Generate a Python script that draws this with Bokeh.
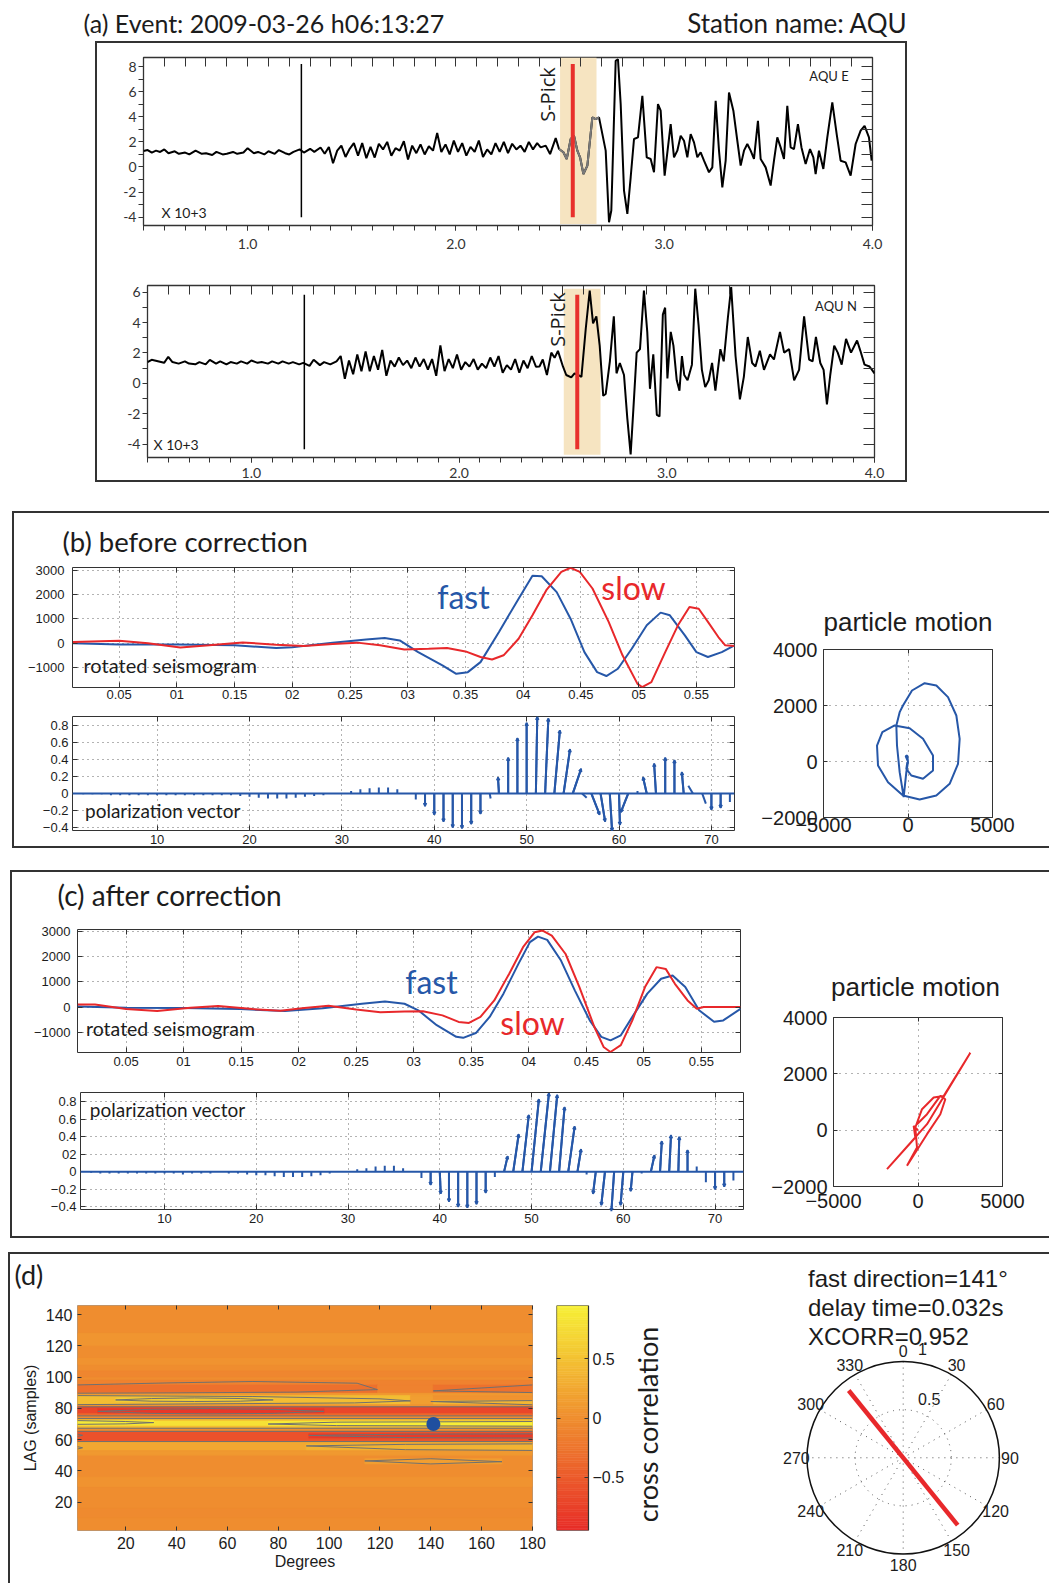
import numpy as np
from bokeh.plotting import figure
from bokeh.layouts import column, row, Spacer
from bokeh.models import (Range1d, LinearAxis, FixedTicker, Label, CustomJSTickFormatter,
                          PrintfTickFormatter, LinearColorMapper, ColumnDataSource, Span, Arrow, VeeHead)
from bokeh.transform import transform
from bokeh.embed import file_html
from bokeh.resources import INLINE

# ======================= DATA =======================
# (a) AQU E component (time s, amplitude x10^3)
e_pts = [(0.50,1.27),(0.52,1.35),(0.54,1.15),(0.56,1.30),(0.58,1.20),(0.60,1.40),(0.62,1.10),
         (0.65,1.25),(0.67,1.05),(0.70,1.15),(0.72,1.00),(0.75,1.30),(0.78,1.05),(0.80,1.10),
         (0.83,0.95),(0.85,1.20),(0.88,1.00),(0.90,1.05),(0.93,1.20),(0.95,1.05),(0.98,1.15),
         (1.00,1.50),(1.03,1.10),(1.05,1.20),(1.08,1.00),(1.10,1.25),(1.13,1.05),(1.15,1.35),
         (1.18,1.10),(1.20,1.00),(1.22,1.20),(1.25,1.40),(1.27,1.15),(1.30,1.45),(1.32,1.20),
         (1.35,1.55),(1.37,1.05),(1.39,1.60),(1.41,0.30),(1.43,1.30),(1.45,1.70),(1.47,0.80),
         (1.49,1.45),(1.51,1.90),(1.53,0.90),(1.55,1.90),(1.57,0.70),(1.59,1.60),(1.61,0.75),
         (1.63,1.85),(1.65,1.40),(1.67,2.00),(1.69,0.90),(1.71,1.50),(1.73,1.30),(1.75,2.05),
         (1.77,0.60),(1.79,1.70),(1.81,1.10),(1.83,1.80),(1.85,1.00),(1.87,1.65),(1.89,1.30),
         (1.91,2.70),(1.93,1.20),(1.95,1.80),(1.97,1.00),(1.99,2.10),(2.01,1.20),(2.03,1.90),
         (2.05,0.90),(2.07,1.60),(2.09,1.20),(2.11,2.10),(2.13,0.80),(2.15,1.40),(2.17,1.00),
         (2.19,1.90),(2.21,1.20),(2.23,2.00),(2.25,1.10),(2.27,1.85),(2.29,1.40),(2.31,1.70),
         (2.33,1.20),(2.35,2.00),(2.37,1.40),(2.39,1.90),
         (2.407,1.56),(2.431,1.70),(2.452,1.03),(2.479,2.30),(2.495,1.43),(2.516,1.17),
         (2.532,0.64),(2.551,2.23),(2.567,2.49),(2.583,1.30),(2.596,0.77),(2.612,-0.56),
         (2.631,0.11),(2.655,3.95),(2.671,3.81),(2.687,3.95),(2.719,1.30),(2.735,-4.40),
         (2.746,-3.47),(2.767,8.45),(2.778,8.58),(2.791,5.01),(2.807,-1.88),(2.823,-3.74),
         (2.839,-0.82),(2.855,2.23),(2.874,2.36),(2.895,5.67),(2.916,0.77),(2.935,0.64),
         (2.951,-0.42),(2.970,5.01),(2.983,4.48),(3.002,-0.69),(3.031,3.42),(3.047,0.77),
         (3.063,1.30),(3.079,2.49),(3.095,2.09),(3.111,0.77),(3.127,2.62),(3.143,1.96),
         (3.159,0.77),(3.175,1.17),(3.191,0.50),(3.215,-0.42),(3.231,-0.03),(3.247,5.27),
         (3.263,1.30),(3.279,-1.62),(3.295,0.50),(3.311,5.93),(3.332,4.48),(3.351,2.09),
         (3.367,0.11),(3.383,1.30),(3.399,1.83),(3.415,1.30),(3.431,0.64),(3.450,3.68),
         (3.463,0.64),(3.487,-0.03),(3.511,-1.48),(3.527,0.50),(3.543,2.36),(3.559,1.56),
         (3.575,0.64),(3.591,4.87),(3.607,1.56),(3.623,1.43),(3.642,3.42),(3.659,1.56),
         (3.679,0.24),(3.700,1.43),(3.716,0.77),(3.727,-0.56),(3.743,1.30),(3.764,-0.16),
         (3.783,2.36),(3.807,5.14),(3.828,2.62),(3.847,0.50),(3.871,0.37),(3.895,-0.69),
         (3.919,1.83),(3.943,2.89),(3.962,3.28),(3.983,2.36),(3.996,0.50)]
# (a) AQU N component
n_pts = [(0.50,1.40),(0.52,1.55),(0.55,1.45),(0.58,1.35),(0.60,1.75),(0.62,1.40),(0.65,1.30),
         (0.68,1.45),(0.70,1.30),(0.73,1.25),(0.75,1.40),(0.78,1.25),(0.80,1.55),(0.83,1.30),
         (0.85,1.45),(0.88,1.25),(0.90,1.40),(0.93,1.30),(0.95,1.45),(0.98,1.30),(1.00,1.50),
         (1.03,1.35),(1.05,1.40),(1.08,1.30),(1.10,1.45),(1.13,1.30),(1.15,1.45),(1.18,1.30),
         (1.20,1.40),(1.23,1.25),(1.25,1.35),(1.28,1.15),(1.30,1.55),(1.33,1.20),(1.35,1.40),
         (1.38,1.25),(1.41,1.45),(1.43,1.80),(1.45,0.30),(1.47,1.50),(1.49,0.60),(1.51,1.90),
         (1.53,0.80),(1.55,2.10),(1.57,0.80),(1.59,1.80),(1.61,0.90),(1.63,2.20),(1.65,0.50),
         (1.67,1.50),(1.69,1.10),(1.71,1.70),(1.73,1.20),(1.75,1.50),(1.77,1.00),(1.79,1.70),
         (1.81,1.10),(1.83,1.60),(1.85,0.90),(1.87,1.60),(1.89,0.50),(1.91,2.50),(1.93,0.80),
         (1.95,1.60),(1.97,1.00),(1.99,1.90),(2.01,0.90),(2.03,1.40),(2.05,1.10),(2.07,1.60),
         (2.09,0.90),(2.11,1.30),(2.13,1.00),(2.15,1.70),(2.17,1.10),(2.19,1.80),(2.21,0.70),
         (2.23,1.20),(2.25,0.90),(2.27,1.60),(2.29,0.70),(2.31,1.50),(2.33,1.00),(2.35,1.80),
         (2.37,1.10),
         (2.387,1.11),(2.403,1.57),(2.423,0.55),(2.444,2.02),(2.460,1.68),(2.476,2.14),
         (2.500,1.11),(2.516,0.55),(2.540,0.39),(2.556,0.66),(2.573,0.55),(2.589,0.43),
         (2.610,3.61),(2.629,6.11),(2.645,3.95),(2.661,4.41),(2.677,2.48),(2.694,-0.82),
         (2.706,-0.70),(2.726,1.45),(2.745,4.41),(2.758,0.66),(2.774,1.34),(2.794,0.55),
         (2.810,-2.30),(2.826,-4.68),(2.839,-1.73),(2.855,2.02),(2.871,2.25),(2.890,6.11),
         (2.906,3.39),(2.919,-0.36),(2.935,1.91),(2.952,-2.07),(2.965,-2.18),(2.981,4.52),
         (2.992,4.98),(3.003,0.32),(3.019,3.39),(3.032,2.48),(3.048,0.20),(3.061,-0.48),
         (3.073,1.80),(3.084,0.55),(3.100,0.20),(3.121,1.23),(3.137,6.23),(3.153,3.84),
         (3.169,0.89),(3.185,-0.25),(3.202,0.20),(3.218,1.34),(3.234,-0.48),(3.258,2.25),
         (3.274,1.45),(3.294,4.30),(3.310,6.34),(3.331,1.80),(3.352,-1.05),(3.371,0.43),
         (3.390,3.05),(3.411,1.34),(3.427,1.11),(3.448,2.14),(3.468,0.89),(3.497,1.91),
         (3.516,1.57),(3.545,3.39),(3.565,2.02),(3.589,2.25),(3.613,0.20),(3.637,0.89),
         (3.661,4.41),(3.685,1.57),(3.702,1.45),(3.718,3.05),(3.739,1.34),(3.755,0.89),
         (3.771,-1.39),(3.787,0.55),(3.806,2.48),(3.823,2.02),(3.842,1.23),(3.863,2.93),
         (3.887,2.02),(3.916,2.82),(3.932,2.14),(3.952,1.23),(3.976,1.11),(4.000,0.66)]
e_t = [p[0] for p in e_pts]; e_v = [p[1] for p in e_pts]
n_t = [p[0] for p in n_pts]; n_v = [p[1] for p in n_pts]
e_p_time, n_p_time = 1.258, 1.255          # black marker
e_s_time, n_s_time = 2.561, 2.569          # S-pick
e_window, n_window = [2.500, 2.675], [2.504, 2.681]
e_mark_span, n_mark_span = [-4.0, 8.2], [-4.33, 5.83]
e_win_span, n_win_span = [-4.55, 8.72], [-4.7, 6.23]

# (b) before correction: rotated seismograms (time s, counts)
b_fast = [(0.010,0),(0.050,-50),(0.100,-50),(0.150,-80),(0.186,-190),(0.200,-160),(0.235,30),
          (0.264,160),(0.280,220),(0.293,120),(0.309,-360),(0.330,-900),(0.342,-1250),
          (0.352,-1180),(0.363,-770),(0.379,470),(0.396,1830),(0.408,2770),(0.416,2750),
          (0.429,2100),(0.441,1010),(0.453,-360),(0.464,-1180),(0.472,-1340),(0.482,-1040),
          (0.494,-220),(0.507,740),(0.519,1260),(0.527,1150),(0.540,330),(0.550,-360),
          (0.560,-560),(0.572,-360),(0.583,-80)]
b_slow = [(0.010,55),(0.050,110),(0.075,0),(0.103,-165),(0.128,-80),(0.157,40),(0.186,-55),
          (0.210,-110),(0.235,-30),(0.256,30),(0.276,-80),(0.297,-250),(0.318,-220),
          (0.334,-190),(0.350,-330),(0.363,-560),(0.373,-660),(0.383,-490),(0.396,190),
          (0.408,1150),(0.420,2180),(0.433,2930),(0.441,3100),(0.449,2930),(0.460,2250),
          (0.474,880),(0.486,-490),(0.499,-1660),(0.503,-1790),(0.511,-1590),(0.523,-360),
          (0.534,740),(0.544,1490),(0.552,1420),(0.560,880),(0.569,260),(0.575,-80),(0.583,-110)]
# (c) after correction
c_fast = [(0.008,25),(0.050,-25),(0.100,-40),(0.149,-80),(0.188,-160),(0.221,-50),(0.255,130),
          (0.275,220),(0.292,130),(0.304,-130),(0.320,-720),(0.337,-1180),(0.343,-1220),
          (0.354,-1030),(0.366,-390),(0.378,530),(0.391,1710),(0.401,2570),(0.408,2790),
          (0.416,2660),(0.428,1840),(0.440,660),(0.453,-530),(0.463,-1180),(0.471,-1320),
          (0.480,-1120),(0.490,-390),(0.503,530),(0.515,1120),(0.525,1250),(0.536,790),
          (0.548,-130),(0.561,-580),(0.569,-530),(0.584,-70)]
c_slow = [(0.008,100),(0.023,100),(0.050,-80),(0.077,-160),(0.106,-25),(0.130,40),(0.160,-80),
          (0.184,-145),(0.205,-40),(0.226,50),(0.250,-100),(0.271,-210),(0.292,-180),
          (0.308,-170),(0.325,-330),(0.339,-590),(0.348,-630),(0.358,-390),(0.370,260),
          (0.383,1320),(0.395,2370),(0.405,2960),(0.412,3030),(0.420,2830),(0.432,2100),
          (0.444,790),(0.457,-790),(0.465,-1580),(0.471,-1780),(0.480,-1510),(0.490,-530),
          (0.501,790),(0.511,1580),(0.519,1510),(0.527,920),(0.538,260),(0.546,-70),
          (0.552,0),(0.584,0)]

# polarization vectors (sample index 1..72): vertical component v, horizontal tilt u
pol_idx = list(range(1, 73))
pol_b_v = [0.0,-0.01,-0.01,-0.01,-0.02,-0.02,-0.02,-0.02,-0.02,-0.02,-0.02,-0.02,-0.02,-0.02,
           -0.02,-0.02,-0.02,-0.02,-0.03,-0.04,-0.05,-0.06,-0.06,-0.06,-0.05,-0.04,-0.03,-0.02,
           0.0,0.0,0.03,0.05,0.06,0.07,0.07,0.05,0.0,-0.07,-0.15,-0.25,-0.33,-0.40,-0.41,-0.36,
           -0.24,-0.06,0.19,0.42,0.65,0.83,0.90,0.88,0.74,0.52,0.29,-0.05,-0.25,-0.33,-0.44,
           -0.37,-0.22,0.03,0.19,0.35,0.42,0.39,0.25,0.09,-0.12,-0.19,-0.17,-0.10]
pol_b_u = [0.0]*45 + [0.1,-0.1,0.0,0.0,0.0,0.15,0.35,0.6,0.7,0.9,0.5,0.9,0.5,0.25,0.1,-0.8,
           0.0,-0.4,-0.2,0.0,0.0,-0.2,-0.5,0.4,0.0,0.0,0.0]
pol_c_v = [0.0,-0.01,-0.02,-0.02,-0.02,-0.02,-0.02,-0.02,-0.02,-0.02,-0.02,-0.03,-0.02,-0.02,
           -0.02,0.0,-0.02,-0.02,-0.03,-0.04,-0.04,-0.05,-0.06,-0.06,-0.06,-0.05,-0.04,-0.02,
           0.0,0.01,0.03,0.04,0.06,0.07,0.07,0.04,0.0,-0.07,-0.15,-0.25,-0.34,-0.40,-0.41,-0.37,
           -0.24,-0.06,0.18,0.43,0.65,0.83,0.90,0.88,0.74,0.52,0.26,-0.03,-0.25,-0.38,-0.45,
           -0.38,-0.22,-0.02,0.19,0.35,0.42,0.40,0.25,0.06,-0.12,-0.20,-0.17,-0.10]
pol_c_u = [0.0]*39 + [0.1,0.0,0.0,0.0,0.0,0.0,0.0,0.4,0.6,0.7,0.8,0.9,0.8,0.6,0.7,0.4,0.0,
           -0.3,-0.4,-0.3,-0.3,-0.2,0.0,0.4,0.2,0.2,0.1,0.0,0.0,0.0,0.0,0.0,0.0]

# particle motion (x, y)
pm_b = [(0,0),(-138,190),(-39,214),(0,-24),(-99,-381),(-256,-1274),(-493,-381),(-651,571),
        (-690,1286),(-493,1762),(-296,2000),(237,2536),(986,2798),(1677,2714),(2367,2298),
        (2860,1643),(3057,810),(2959,-83),(2465,-798),(1677,-1214),(690,-1357),(-296,-1214),
        (-1183,-738),(-1775,-143),(-1834,571),(-1519,1048),(-789,1286),(99,1190),(888,810),
        (1479,214),(1479,-321),(888,-619),(197,-500),(-99,-262),(-39,-24)]
pm_c = [(0,0),(-256,153),(-158,-260),(-1834,-1381),(533,213),(3097,2751),(1519,1216),
        (927,1157),(237,744),(-158,94),(-59,-614),(-651,-1263),(533,-142),(1321,567),
        (1617,1098),(1321,1216),(533,567),(-59,213)]

# (d) cross-correlation map: cells (deg_lo, deg_hi, lag_lo, lag_hi, value)
hm_cells = [(1,180,1.9,145.8,-0.02),(1,180,120,128,0.06),(1,180,100,104,-0.08),
            (1,180,108,112,0.04),(1,180,30,36,0.05),(1,180,10,16,-0.04),(1,180,95,98,-0.12),
            (1,119,89.7,95,-0.30),(119,141,89.7,95,-0.12),(141,180,90,95,-0.28),
            (1,180,88.2,89.7,0.10),(1,132,82.4,88.2,0.45),(132,141,82.4,88.2,0.15),
            (141,180,82.4,85.5,0.38),(141,180,85.5,88.2,0.05),(16,78,84.4,86.7,0.62),
            (1,180,81,82.4,0.05),(1,180,76.5,81,-0.70),(9,98,76.5,79.7,-0.85),
            (1,180,75.2,76.5,-0.40),(1,180,73.5,75.2,-0.05),(1,180,72,73.5,0.40),
            (1,180,68.6,72,0.80),(1,31,69.8,72.2,0.90),(76,180,68.6,71.6,0.92),
            (1,180,67.3,68.6,0.45),(1,180,65.3,67.3,0.0),(1,180,59,65.3,-0.60),
            (92,180,61,63.7,-0.82),(1,180,58.5,59,-0.20),(1,180,53,58.5,0.25),
            (91,180,53.1,57.3,0.35),(1,180,50,53,0.10),(114,168,44.5,47.8,0.15)]
hm_deg_lo = [c[0] for c in hm_cells]; hm_deg_hi = [c[1] for c in hm_cells]
hm_lag_lo = [c[2] for c in hm_cells]; hm_lag_hi = [c[3] for c in hm_cells]
hm_val = [c[4] for c in hm_cells]
contour_deg = [[1,37,70,111,119,87,37,1],[180,141,180],[1,70,120,132,110,1],[180,140,180],
               [16,30,47,65,78,65,47,30,16],[9,30,53,78,98,78,53,30,9],[1,180],[1,180],[1,180],
               [1,180],[1,180],[1,180],[1,20,31,20,1],[180,103,76,103,180],[180,130,92,130,180],
               [180,130,91,130,180],[114,140,168,140,114],[1,3,1],[1,3,1]]
contour_lag = [[95.0,96.3,97.2,96.1,92.0,90.4,89.9,89.7],[95.0,91.2,90.1],
               [88.2,87.6,86.1,84.8,83.5,82.4],[85.0,84.4,82.3],
               [85.4,86.3,86.7,86.3,85.4,84.6,84.4,84.6,85.4],
               [78.1,79.4,79.9,79.4,78.1,76.8,76.5,76.8,78.1],[81.0,81.0],[75.2,75.2],
               [73.5,73.5],[67.3,67.3],[65.3,65.3],[58.8,58.8],[72.2,71.6,70.9,70.1,69.8],
               [71.6,71.2,70.0,69.0,68.6],[63.7,63.5,62.7,61.3,61.0],[57.3,57.0,56.0,53.6,53.1],
               [46.4,47.8,45.9,44.5,46.4],[63.5,62.8,62.0],[55.5,54.8,54.0]]
fast_dir = 141
best_lag = 70
delay_time = 0.032
xcorr = 0.952
polar_len = 0.9
polar_angles = [0, 30, 60, 90, 120, 150, 180, 210, 240, 270, 300, 330]
polar_rticks = [0.5, 1]

# ticks
a_xticks = [1, 2, 3, 4]
seis_xticks = [0.05, 0.1, 0.15, 0.2, 0.25, 0.3, 0.35, 0.4, 0.45, 0.5, 0.55]
seis_yticks = [-1000, 0, 1000, 2000, 3000]
pol_xticks = [10, 20, 30, 40, 50, 60, 70]
pol_yticks = [-0.4, -0.2, 0, 0.2, 0.4, 0.6, 0.8]
pm_xticks = [-5000, 0, 5000]
pm_yticks = [-2000, 0, 2000, 4000]
hm_xticks = [20, 40, 60, 80, 100, 120, 140, 160, 180]
hm_yticks = [20, 40, 60, 80, 100, 120, 140]
cb_ticks = [-0.5, 0, 0.5]

# ======================= STYLE / HELPERS =======================
BLUE = "#2657a8"
RED = "#e8282b"
INK = "#1c1c1c"
WHEAT = "#f6e4c1"
MYR = "Lato"
HEL = "Liberation Sans"
MINUS_JS = "return tick < 0 ? '\u2212' + Math.abs(tick) : String(tick);"
SEIS_X_JS = """
const v = Math.round(tick * 100);
if (v % 10 == 0) { return '0' + (v / 10); }
return '0.' + (v < 10 ? '0' : '') + v;
"""


def pol_js(alt):
    return ("const v = Math.round(tick * 10);\n"
            "if (v == 0) { return '0'; }\n"
            "if (" + ("true" if alt else "false") + " && v == 2) { return '02'; }\n"
            "return (v < 0 ? '\u2212' : '') + (Math.abs(v) / 10).toFixed(1);")


def mkfig(cx, cy, w, h, frame, xr, yr, noaxes=False, **extra):
    fx0, fy0, fx1, fy1 = frame
    kw = dict(width=w, height=h, x_range=Range1d(*xr), y_range=Range1d(*yr),
              output_backend="svg", toolbar_location=None, title=None,
              min_border_left=fx0 - cx, min_border_top=fy0 - cy,
              min_border_right=cx + w - fx1, min_border_bottom=cy + h - fy1,
              border_fill_color=None, background_fill_color=None,
              outline_line_color="#333333", outline_line_width=1)
    if noaxes:
        kw.update(x_axis_type=None, y_axis_type=None)
    kw.update(extra)
    p = figure(**kw)
    p.grid.visible = False

    def conv(px, py):
        return (xr[0] + (px - fx0) / (fx1 - fx0) * (xr[1] - xr[0]),
                yr[1] - (py - fy0) / (fy1 - fy0) * (yr[1] - yr[0]))
    return p, conv


def style_ax(ax, font, size, standoff, tin, tout, minor_in=0, minor_out=0, color=INK):
    ax.axis_line_color = None
    ax.major_tick_in = tin
    ax.major_tick_out = tout
    ax.minor_tick_in = minor_in
    ax.minor_tick_out = minor_out
    ax.major_tick_line_color = "#333333"
    ax.minor_tick_line_color = "#333333"
    ax.major_label_text_font = font
    ax.major_label_text_font_size = f"{size}px"
    ax.major_label_text_color = color
    ax.major_label_standoff = standoff


def box_axis(p, side, ticks, tin):
    ax = LinearAxis(ticker=FixedTicker(ticks=ticks))
    ax.axis_line_color = None
    ax.major_tick_in = tin
    ax.major_tick_out = 0
    ax.minor_tick_in = 0
    ax.minor_tick_out = 0
    ax.major_tick_line_color = "#333333"
    ax.major_label_text_color = None
    ax.major_label_text_font_size = "1px"
    ax.major_label_standoff = 0
    p.add_layout(ax, side)


def grid_on(p, xt, yt, dash="1 4"):
    p.xgrid.visible = True
    p.ygrid.visible = True
    p.xgrid.ticker = FixedTicker(ticks=xt)
    p.ygrid.ticker = FixedTicker(ticks=yt)
    for g in (p.xgrid[0], p.ygrid[0]):
        g.grid_line_color = "#666666"
        g.grid_line_dash = dash
        g.grid_line_width = 1


def lab(p, conv, px, py, text, size, font, color=INK, align="left", baseline="middle", angle=0.0):
    x, y = conv(px, py)
    p.add_layout(Label(x=x, y=y, text=text, text_font=font, text_font_size=f"{size}px",
                       text_color=color, text_align=align, text_baseline=baseline, angle=angle))


def tfig(cx, cy, w, h, items):
    """blank strip holding free text (page coords)"""
    p, c = mkfig(cx, cy, w, h, (cx, cy, cx + w, cy + h), (0, w), (0, h), noaxes=True)
    p.outline_line_color = None
    for (px, py, text, size, font, align) in items:
        lab(p, c, px, py, text, size, font, align=align)
    return p


# ======================= PANEL (a) =======================
pT = tfig(0, 0, 1049, 41, [(83, 22, "(a) Event: 2009-03-26 h06:13:27", 25, MYR, "left"),
                          (907, 22, "Station name: AQU", 26, MYR, "right")])

tenths = [round(0.5 + 0.1 * i, 1) for i in range(36)]


def seis_a(cx, cy, w, h, frame, yr, t, v, p_time, s_time, win, mspan, wspan, yt, ymin, gray, comp, pos):
    p, c = mkfig(cx, cy, w, h, frame, (0.5, 4.0), yr)
    p.outline_line_width = 1.3
    p.quad(left=[win[0]], right=[win[1]], bottom=[wspan[0]], top=[wspan[1]],
           fill_color=WHEAT, line_color=None)
    p.segment(x0=[p_time], y0=[mspan[0]], x1=[p_time], y1=[mspan[1]], line_color="black", line_width=1.5)
    p.line(t, v, line_color="black", line_width=2)
    if gray:
        gt = [a for a in t if win[0] - 0.006 <= a <= win[1] + 0.013]
        gv = [b for a, b in zip(t, v) if win[0] - 0.006 <= a <= win[1] + 0.013]
        p.line(gt, gv, line_color="#7a7a7a", line_width=2)
    p.segment(x0=[s_time], y0=[mspan[0]], x1=[s_time], y1=[mspan[1]], line_color="#e8302c", line_width=4)
    xa = p.xaxis[0]
    xa.ticker = FixedTicker(ticks=a_xticks, minor_ticks=tenths)
    xa.formatter = PrintfTickFormatter(format="%.1f")
    style_ax(xa, MYR, 14, pos["xs"], 0, 5, 0, 5, color="#333333")
    ya = p.yaxis[0]
    ya.ticker = FixedTicker(ticks=yt, minor_ticks=[k for k in range(ymin, yt[-1]) if k % 2])
    ya.formatter = PrintfTickFormatter(format="%d")
    style_ax(ya, MYR, 14, 2, 0, 5, 0, 5, color="#333333")
    box_axis(p, "above", tenths, 9)
    box_axis(p, "right", list(range(ymin, yt[-1] + 1)), 11)
    lab(p, c, pos["sp"][0], pos["sp"][1], "S-Pick", 20, "Open Sans", align="center", angle=np.pi / 2)
    lab(p, c, pos["cp"][0], pos["cp"][1], comp, 13, MYR, align="center")
    lab(p, c, pos["xp"][0], pos["xp"][1], "X 10+3", 14, MYR)
    return p


pA1 = seis_a(95, 41, 812, 220, (143, 57, 872, 225), (-4.66, 8.72), e_t, e_v, e_p_time, e_s_time,
             e_window, e_mark_span, e_win_span, [-4, -2, 0, 2, 4, 6, 8], -4, True, "AQU E",
             dict(xs=8, sp=(547, 94), cp=(828.5, 75), xp=(161, 212)))
pA2 = seis_a(95, 261, 812, 221, (147, 285, 874, 457), (-4.88, 6.44), n_t, n_v, n_p_time, n_s_time,
             n_window, n_mark_span, n_win_span, [-4, -2, 0, 2, 4, 6], -4, False, "AQU N",
             dict(xs=5, sp=(557, 319), cp=(835.5, 305), xp=(153, 443.5)))

# ======================= PANELS (b), (c) =======================


def seismo_fig(cx, cy, w, h, frame, xr, yr, fast, slow, xs, ys):
    p, c = mkfig(cx, cy, w, h, frame, xr, yr)
    grid_on(p, seis_xticks, seis_yticks)
    p.line([a for a, b in fast], [b for a, b in fast], line_color=BLUE, line_width=2)
    p.line([a for a, b in slow], [b for a, b in slow], line_color=RED, line_width=2)
    ax = p.xaxis[0]
    ax.ticker = FixedTicker(ticks=seis_xticks)
    ax.formatter = CustomJSTickFormatter(code=SEIS_X_JS)
    style_ax(ax, HEL, 13, xs, 5, 0)
    ay = p.yaxis[0]
    ay.ticker = FixedTicker(ticks=seis_yticks)
    ay.formatter = CustomJSTickFormatter(code=MINUS_JS)
    style_ax(ay, HEL, 13, ys, 5, 0)
    box_axis(p, "above", seis_xticks, 5)
    box_axis(p, "right", seis_yticks, 5)
    return p, c


def pol_fig(cx, cy, w, h, frame, xr, yr, v, u, alt, xs, ys):
    p, c = mkfig(cx, cy, w, h, frame, xr, yr)
    grid_on(p, pol_xticks, pol_yticks)
    p.add_layout(Span(location=0, dimension="width", line_color=BLUE, line_width=2))
    x1 = [i + du for i, du in zip(pol_idx, u)]
    p.segment(x0=pol_idx, y0=[0] * len(pol_idx), x1=x1, y1=v, line_color=BLUE, line_width=2)
    big = [k for k in range(len(v)) if abs(v[k]) >= 0.15]
    asrc = ColumnDataSource(dict(x0=[pol_idx[k] for k in big], y0=[0.0] * len(big),
                                 x1=[x1[k] for k in big], y1=[v[k] for k in big]))
    p.add_layout(Arrow(end=VeeHead(size=3, line_color=BLUE, line_width=1.5), source=asrc,
                       x_start="x0", y_start="y0", x_end="x1", y_end="y1",
                       line_color=BLUE, line_width=2))
    ax = p.xaxis[0]
    ax.ticker = FixedTicker(ticks=pol_xticks)
    style_ax(ax, HEL, 13, xs, 5, 0)
    ay = p.yaxis[0]
    ay.ticker = FixedTicker(ticks=pol_yticks)
    ay.formatter = CustomJSTickFormatter(code=pol_js(alt))
    style_ax(ay, HEL, 13, ys, 5, 0)
    box_axis(p, "above", pol_xticks, 5)
    box_axis(p, "right", pol_yticks, 5)
    return p, c


def pm_fig(cx, cy, w, h, frame, pts, color, xs, ys):
    p, c = mkfig(cx, cy, w, h, frame, (-5000, 5000), (-2000, 4000))
    grid_on(p, pm_xticks, pm_yticks, dash="1 5")
    p.line([a for a, b in pts], [b for a, b in pts], line_color=color, line_width=2)
    ax = p.xaxis[0]
    ax.ticker = FixedTicker(ticks=pm_xticks)
    ax.formatter = CustomJSTickFormatter(code=MINUS_JS)
    style_ax(ax, HEL, 20, xs, 4, 0)
    ay = p.yaxis[0]
    ay.ticker = FixedTicker(ticks=pm_yticks)
    ay.formatter = CustomJSTickFormatter(code=MINUS_JS)
    style_ax(ay, HEL, 20, ys, 4, 0)
    box_axis(p, "above", pm_xticks, 4)
    box_axis(p, "right", pm_yticks, 4)
    return p


# ---- (b)
tB = tfig(12, 511, 728, 50, [(62, 541, "(b) before correction", 27.5, MYR, "left")])
pB1, cB1 = seismo_fig(12, 561, 728, 140, (72, 567, 734, 687), (0.0096, 0.583), (-1810, 3111),
                      b_fast, b_slow, 2, 8)
lab(pB1, cB1, 463, 596, "fast", 32, MYR, color=BLUE, align="center")
lab(pB1, cB1, 633, 587, "slow", 32, MYR, color=RED, align="center")
lab(pB1, cB1, 83, 664, "rotated seismogram", 20, MYR)
pB2, cB2 = pol_fig(12, 701, 728, 147, (72, 716, 734, 830), (0.84, 72.5), (-0.435, 0.903),
                   pol_b_v, pol_b_u, False, 4, 4)
lab(pB2, cB2, 84.5, 810, "polarization vector", 19, MYR)
tB3 = tfig(740, 511, 309, 129, [(907.5, 621, "particle motion", 26, HEL, "center")])
pB3 = pm_fig(740, 640, 309, 208, (823, 649, 992, 817), pm_b, BLUE, 0, 6)

# ---- (c)
tC = tfig(10, 870, 737, 47, [(57, 894.5, "(c) after correction", 28, MYR, "left")])
pC1, cC1 = seismo_fig(10, 917, 737, 158, (77, 929, 740, 1052), (0.0078, 0.584), (-1800, 3070),
                      c_fast, c_slow, 4, 7)
lab(pC1, cC1, 431, 981, "fast", 32, MYR, color=BLUE, align="center")
lab(pC1, cC1, 532, 1022, "slow", 32, MYR, color=RED, align="center")
lab(pC1, cC1, 85.5, 1028, "rotated seismogram", 19.5, MYR)
pC2, cC2 = pol_fig(10, 1075, 737, 163, (80, 1092, 743, 1209), (0.84, 73.1), (-0.43, 0.907),
                   pol_c_v, pol_c_u, True, 4, 4)
lab(pC2, cC2, 89.3, 1109, "polarization vector", 19, MYR)
tC3 = tfig(747, 870, 302, 137, [(915, 986.5, "particle motion", 26, HEL, "center")])
pC3 = pm_fig(747, 1007, 302, 231, (833, 1017, 1002, 1186), pm_c, RED, 7, 6)

# ======================= PANEL (d) =======================
c0, c1 = (232, 45, 40), (247, 240, 55)
PAL = ["#%02x%02x%02x" % tuple(int(round(c0[k] + (c1[k] - c0[k]) * i / 255)) for k in range(3))
       for i in range(256)]
mapper = LinearColorMapper(palette=PAL, low=-0.95, high=0.95)

tD = tfig(8, 1252, 538, 40, [(14, 1274, "(d)", 27, MYR, "left")])
pD1, cD1 = mkfig(8, 1292, 538, 291, (77, 1305, 532, 1530), (1, 180), (1.9, 145.8))
pD1.outline_line_color = "#9a9a9a"
src = ColumnDataSource(dict(left=hm_deg_lo, right=hm_deg_hi, bottom=hm_lag_lo, top=hm_lag_hi, val=hm_val))
pD1.quad(left="left", right="right", bottom="bottom", top="top", source=src,
         fill_color=transform("val", mapper), line_color=transform("val", mapper), line_width=0.6)
pD1.multi_line(xs=contour_deg, ys=contour_lag, line_color="#707070", line_width=1)
pD1.scatter(x=[fast_dir], y=[best_lag], size=14, fill_color="#1f4f9f", line_color=None)
ax = pD1.xaxis[0]
ax.ticker = FixedTicker(ticks=hm_xticks)
style_ax(ax, HEL, 16, 6, 4, 0)
ax.axis_label = "Degrees"
ax.axis_label_text_font = HEL
ax.axis_label_text_font_size = "16px"
ax.axis_label_text_font_style = "normal"
ax.axis_label_text_color = INK
ax.axis_label_standoff = 1
ay = pD1.yaxis[0]
ay.ticker = FixedTicker(ticks=hm_yticks)
style_ax(ay, HEL, 16, 5, 4, 0)
ay.axis_label = "LAG (samples)"
ay.axis_label_text_font = HEL
ay.axis_label_text_font_size = "16px"
ay.axis_label_text_font_style = "normal"
ay.axis_label_text_color = INK
ay.axis_label_standoff = 4
box_axis(pD1, "above", hm_xticks, 4)
box_axis(pD1, "right", hm_yticks, 4)

# colour bar (own wide frame so its labels and title sit inside it)
pD2, cD2 = mkfig(546, 1252, 206, 331, (556, 1305, 752, 1530), (0, 196 / 32), (-0.95, 0.95),
                 x_axis_type=None, y_axis_type=None)
pD2.outline_line_color = None
cb_edges = np.linspace(-0.95, 0.95, 97)
cb_src = ColumnDataSource(dict(bottom=cb_edges[:-1], top=cb_edges[1:],
                               val=(cb_edges[:-1] + cb_edges[1:]) / 2))
pD2.quad(left=0, right=1, bottom="bottom", top="top", source=cb_src,
         fill_color=transform("val", mapper), line_color=transform("val", mapper), line_width=0.6)
pD2.quad(left=[0], right=[1], bottom=[-0.95], top=[0.95], fill_color=None,
         line_color="#333333", line_width=1.2)
cbax = LinearAxis(ticker=FixedTicker(ticks=cb_ticks), formatter=CustomJSTickFormatter(code=MINUS_JS),
                  fixed_location=1)
style_ax(cbax, HEL, 16, 4, 4, 0)
pD2.add_layout(cbax, "right")
box_axis(pD2, "left", cb_ticks, 4)
lab(pD2, cD2, 647, 1424, "cross correlation", 27, MYR, align="center", baseline="alphabetic",
    angle=np.pi / 2)

pD3, cD3 = mkfig(752, 1252, 297, 331, (752, 1252, 1049, 1583), (-1.5665, 1.5208), (-1.307, 2.134),
                 noaxes=True)
pD3.outline_line_color = None
sp_a = np.radians([a for a in polar_angles if a < 180])
pD3.segment(x0=np.sin(sp_a), y0=np.cos(sp_a), x1=-np.sin(sp_a), y1=-np.cos(sp_a),
            line_color="#555555", line_width=1, line_dash="1 5")
pD3.ellipse(x=[0], y=[0], width=[2 * polar_rticks[0]], height=[2 * polar_rticks[0]],
            fill_color=None, line_color="#555555", line_width=1, line_dash="1 5")
pD3.ellipse(x=[0], y=[0], width=[2 * polar_rticks[1]], height=[2 * polar_rticks[1]],
            fill_color=None, line_color="#111111", line_width=1.5)
fd = np.radians(fast_dir)
pD3.segment(x0=[polar_len * np.sin(fd)], y0=[polar_len * np.cos(fd)],
            x1=[-polar_len * np.sin(fd)], y1=[-polar_len * np.cos(fd)], line_color=RED, line_width=4.5)
for a in polar_angles:
    r = np.radians(a)
    pD3.add_layout(Label(x=1.11 * np.sin(r), y=1.11 * np.cos(r), text=str(a), text_font=HEL,
                         text_font_size="16px", text_color=INK, text_align="center", text_baseline="middle"))
rlab_pos = {0.5: (0.27, 0.615), 1: (0.20, 1.136)}
for rv in polar_rticks:
    pD3.add_layout(Label(x=rlab_pos[rv][0], y=rlab_pos[rv][1], text=str(rv), text_font=HEL,
                         text_font_size="16px", text_color=INK, text_align="center", text_baseline="middle"))
lab(pD3, cD3, 807.5, 1278, f"fast direction={fast_dir}\u00b0", 24, HEL)
lab(pD3, cD3, 807.5, 1307, f"delay time={delay_time:.3f}s", 24, HEL)
lab(pD3, cD3, 807.5, 1336, f"XCORR={xcorr:.3f}", 24, HEL)

# ======================= LAYOUT =======================
SH_ALL = {"box-shadow": "inset 0 0 0 2px #333333"}
SH_TLB = {"box-shadow": "inset 2px 2px 0 0 #333333, inset 0 -2px 0 0 #333333"}
SH_TL = {"box-shadow": "inset 2px 2px 0 0 #333333"}

panelA = column(column(pA1), column(pA2), styles=SH_ALL)
panelB = row(column(column(tB), column(pB1), column(pB2)),
             column(column(tB3), column(pB3)), styles=SH_TLB)
panelC = row(column(column(tC), column(pC1), column(pC2)),
             column(column(tC3), column(pC3)), styles=SH_TLB)
panelD = row(column(column(tD), column(pD1)), column(pD2), column(pD3), styles=SH_TL)

root = column(
    pT,
    row(Spacer(width=95, height=441), panelA),
    Spacer(width=1049, height=29),
    row(Spacer(width=12, height=337), panelB),
    Spacer(width=1049, height=22),
    row(Spacer(width=10, height=368), panelC),
    Spacer(width=1049, height=14),
    row(Spacer(width=8, height=331), panelD),
)

open("out.html", "w", encoding="utf-8").write(file_html(root, INLINE, title="AQU splitting"))
